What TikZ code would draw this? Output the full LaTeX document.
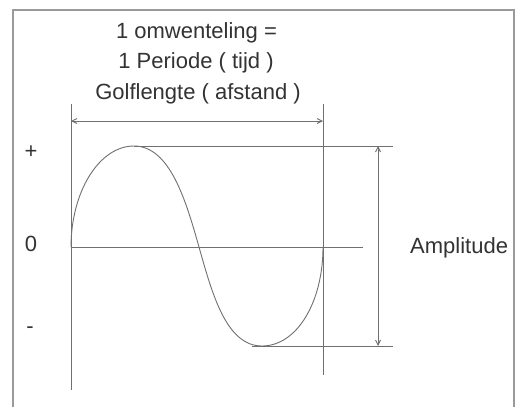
\documentclass[tikz,border=0pt]{standalone}
\usepackage{fontspec}
\setmainfont{Liberation Sans}
\usetikzlibrary{arrows.meta}
\definecolor{txt}{HTML}{333333}
\definecolor{ln}{HTML}{707070}
\definecolor{frm}{HTML}{9A9A9A}
\begin{document}
\begin{tikzpicture}[x=1pt,y=-1pt,
  lab/.style={inner sep=0pt,text=txt,font=\fontsize{22}{26}\selectfont},
  thin line/.style={draw=ln,line width=0.9pt},
  dim/.style={draw=ln,line width=0.9pt,{Straight Barb[length=5pt,width=5pt]}-{Straight Barb[length=5pt,width=5pt]}}]
\useasboundingbox (0,0) rectangle (517,407);
\fill[white] (0,0) rectangle (517,407);
% frame
\draw[frm,line width=1.3pt] (13,420) -- (13,10) -- (514,10) -- (514,420);
% texts
\node[lab,anchor=base] (t1) at (196.5,38) {1 omwenteling =};
\node[lab,anchor=base] (t2) at (196,68) {1 Periode ( tijd )};
\node[lab,anchor=base] (t3) at (198,99) {Golflengte ( afstand )};
\node[lab,anchor=base] (plus) at (31,158) {+};
\node[lab,anchor=base] (zero) at (31,251) {0};
\node[lab,anchor=base] (minus) at (30,333) {-};
\node[lab,anchor=base west] (amp) at (410,253) {Amplitude};
% reference coordinates
\coordinate (lt) at (71,104);
\coordinate (lb) at (71,390);
\coordinate (rt) at (323,104);
\coordinate (rb) at (323,375);
\coordinate (wl) at (71,121);
\coordinate (wr) at (323,121);
\coordinate (pk) at (134,146);
\coordinate (pkr) at (393,146);
\coordinate (z0) at (71,247);
\coordinate (zm) at (199,247);
\coordinate (z1) at (323,247);
\coordinate (zr) at (363,247);
\coordinate (tr) at (262,346);
\coordinate (trs) at (252,346);
\coordinate (trr) at (393,346);
\coordinate (at) at (378,146);
\coordinate (ab) at (378,346);
% lines
\draw[thin line] (lt) -- (lb);
\draw[thin line] (rt) -- (rb);
\draw[thin line] (pk) -- (pkr);
\draw[thin line] (z0) -- (zr);
\draw[thin line] (trs) -- (trr);
\draw[dim] (wl) -- (wr);
\draw[dim] (at) -- (ab);
% wave
\draw[thin line] (z0) .. controls (71,192) and (99,146) .. (pk)
  .. controls (170,146) and (186,201) .. (zm)
  .. controls (212,293) and (226,346) .. (tr)
  .. controls (297,346) and (323,302) .. (z1);
\end{tikzpicture}
\end{document}
